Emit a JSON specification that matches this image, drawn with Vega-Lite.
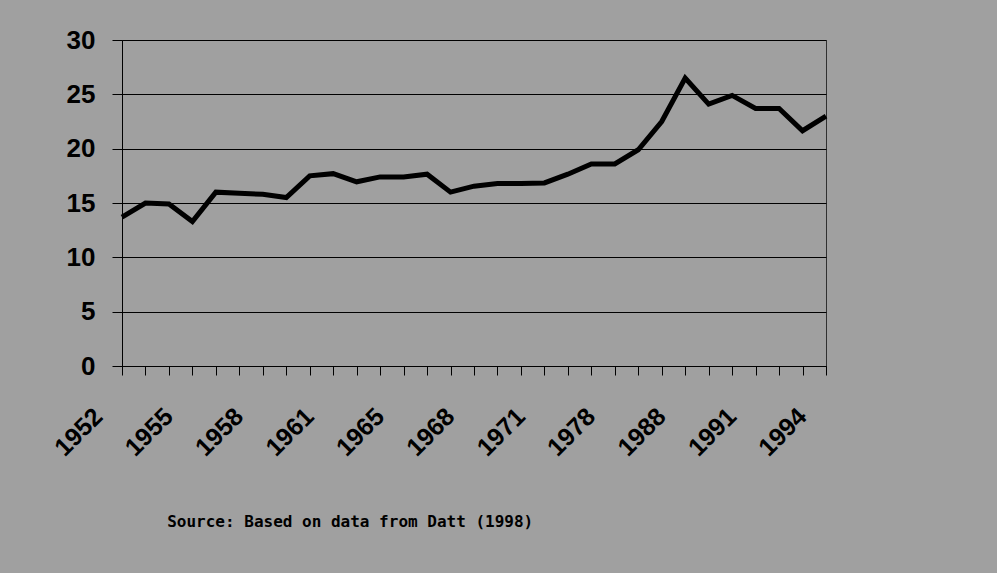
{
  "$schema": "https://vega.github.io/schema/vega-lite/v6.json",
  "width": 704,
  "height": 326,
  "autosize": {"type": "none"},
  "padding": {"left": 122, "top": 40, "right": 171, "bottom": 207},
  "background": "#a0a0a0",
  "title": {
    "text": "Source: Based on data from Datt (1998)",
    "orient": "bottom",
    "anchor": "start",
    "dx": 117,
    "offset": 53,
    "font": "DejaVu Sans Mono",
    "fontSize": 16,
    "fontWeight": "bold",
    "color": "#000000"
  },
  "config": {
    "view": {"stroke": "#303030", "strokeWidth": 1, "fill": null}
  },
  "data": {
    "values": [
      {"year": "1952", "value": 13.7},
      {"year": "1953", "value": 15.0},
      {"year": "1954", "value": 14.9},
      {"year": "1955", "value": 13.3},
      {"year": "1956", "value": 16.0},
      {"year": "1957", "value": 15.9},
      {"year": "1958", "value": 15.8},
      {"year": "1959", "value": 15.5},
      {"year": "1960", "value": 17.5},
      {"year": "1961", "value": 17.7},
      {"year": "1962", "value": 16.95},
      {"year": "1964", "value": 17.4},
      {"year": "1965", "value": 17.4},
      {"year": "1966", "value": 17.65},
      {"year": "1967", "value": 16.0},
      {"year": "1968", "value": 16.55},
      {"year": "1969", "value": 16.8},
      {"year": "1970", "value": 16.8},
      {"year": "1971", "value": 16.85},
      {"year": "1973", "value": 17.65},
      {"year": "1974", "value": 18.6},
      {"year": "1978", "value": 18.6},
      {"year": "1983", "value": 19.9},
      {"year": "1987", "value": 22.5},
      {"year": "1988", "value": 26.5},
      {"year": "1989", "value": 24.1},
      {"year": "1990", "value": 24.9},
      {"year": "1991", "value": 23.7},
      {"year": "1992", "value": 23.7},
      {"year": "1993", "value": 21.65},
      {"year": "1994", "value": 23.0}
    ]
  },
  "mark": {"type": "line", "color": "#000000", "strokeWidth": 5, "strokeJoin": "miter"},
  "encoding": {
    "x": {
      "field": "year",
      "type": "ordinal",
      "sort": null,
      "scale": {"type": "point", "padding": 0},
      "axis": {
        "title": null,
        "domainColor": "#000000",
        "domainWidth": 1,
        "tickColor": "#000000",
        "tickSize": 9,
        "tickWidth": 1,
        "labelAngle": -45,
        "labelAlign": "right",
        "labelBaseline": "middle",
        "labelPadding": 37,
        "labelOffset": -24,
        "labelOverlap": false,
        "labelFont": "Liberation Sans",
        "labelFontSize": 25,
        "labelFontWeight": "bold",
        "labelColor": "#000000",
        "labelExpr": "indexof(['1952','1955','1958','1961','1965','1968','1971','1978','1988','1991','1994'], datum.label) >= 0 ? datum.label : ''"
      }
    },
    "y": {
      "field": "value",
      "type": "quantitative",
      "scale": {"domain": [0, 30], "nice": false, "zero": true},
      "axis": {
        "title": null,
        "values": [0, 5, 10, 15, 20, 25, 30],
        "domainColor": "#000000",
        "domainWidth": 1,
        "tickColor": "#000000",
        "tickSize": 10,
        "tickWidth": 1,
        "grid": true,
        "gridColor": "#000000",
        "gridWidth": 1,
        "gridOpacity": 1,
        "labelFont": "Liberation Sans",
        "labelFontSize": 26,
        "labelFontWeight": "bold",
        "labelColor": "#000000",
        "labelPadding": 17
      }
    }
  }
}
